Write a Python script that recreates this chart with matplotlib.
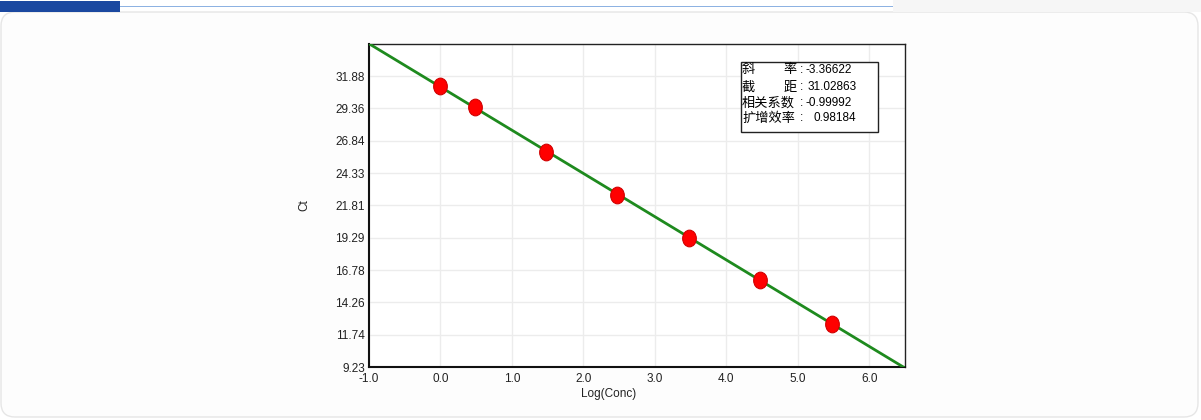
import numpy as np
import matplotlib
matplotlib.use("Agg")
import matplotlib.pyplot as plt
from matplotlib.patches import Rectangle, FancyBboxPatch
from matplotlib.path import Path
from matplotlib.transforms import IdentityTransform

plt.rcParams["font.family"] = ["Liberation Sans", "Noto Sans CJK SC", "DejaVu Sans"]

# standard curve data
log_conc = [0.0, 0.477, 1.477, 2.477, 3.477, 4.477, 5.477]
ct = [31.08, 29.46, 25.98, 22.63, 19.30, 15.98, 12.61]

slope = -3.36622
intercept = 31.02863
r_value = -0.99992
efficiency = 0.98184

x_ticks = [-1.0, 0.0, 1.0, 2.0, 3.0, 4.0, 5.0, 6.0]
x_lim = (-1.0, 6.5)
y_min, y_max = 9.23, 34.395
y_ticks = [9.23, 11.74, 14.26, 16.78, 19.29, 21.81, 24.33, 26.84, 29.36, 31.88]

W, H = 1201, 420
fig = plt.figure(figsize=(W / 100, H / 100), dpi=100)
fig.patch.set_facecolor("white")


def fx(px):
    return px / W


def fy(py):
    return 1 - py / H


# page decoration (panel frame, header bar)
fig.patches.append(FancyBboxPatch((1, 3), 1197, 405, boxstyle="round,pad=0,rounding_size=14",
                                  transform=IdentityTransform(), facecolor="#fdfdfd",
                                  edgecolor="#e6e6e6", lw=1, zorder=-3))
fig.patches.append(Rectangle((893, H - 12), 308, 12, transform=IdentityTransform(),
                             facecolor="#f6f6f6", edgecolor="none", zorder=-3))
fig.patches.append(Rectangle((0, H - 12), 120, 11, transform=IdentityTransform(),
                             facecolor="#1b48a0", edgecolor="none", zorder=-2))
fig.patches.append(Rectangle((120, H - 7), 773, 1.5, transform=IdentityTransform(),
                             facecolor="#8db2e2", edgecolor="none", zorder=-2))

ax = fig.add_axes([fx(369), fy(367), fx(905) - fx(369), fy(43.7) - fy(367)])
ax.set_zorder(1)
ax.set_facecolor("white")

# fitted line from slope / intercept
xl = np.array(x_lim)
ax.plot(xl, slope * xl + intercept, color="#1e8a1e", lw=2, zorder=3, solid_capstyle="butt")

# slightly tall elliptical marker
circ = Path.unit_circle()
ell = Path(circ.vertices * np.array([0.82, 1.0]), circ.codes)
ax.plot(log_conc, ct, linestyle="none", marker=ell, markersize=12,
        markerfacecolor="#ff0000", markeredgecolor="#d00000", markeredgewidth=0.8, zorder=4)

ax.set_xlim(*x_lim)
ax.set_ylim(y_min, y_max)
ax.set_xticks(x_ticks)
ax.set_xticklabels([f"{v:.1f}" for v in x_ticks])
ax.set_yticks(y_ticks)
ax.set_yticklabels([f"{v:.2f}" for v in y_ticks])
ax.tick_params(length=0, labelsize=8.5, colors="#222222", pad=3)
ax.tick_params(axis="x", pad=4)
ax.grid(True, color="#ececec", lw=1)
ax.set_axisbelow(True)

for side in ["top", "right"]:
    ax.spines[side].set_linewidth(1.0)
    ax.spines[side].set_color("#222222")
for side in ["left", "bottom"]:
    ax.spines[side].set_linewidth(1.5)
    ax.spines[side].set_color("#111111")

ax.set_xlabel("Log(Conc)", fontsize=8.5, color="#222222", labelpad=1)
ax.xaxis.set_label_coords((609 - 369) / 536, -0.065)
ax.set_ylabel("Ct", fontsize=8.5, color="#222222")
ax.yaxis.set_label_coords(-(369 - 310) / 536, 0.5)

# info box
fig.patches.append(Rectangle((fx(741), fy(132)), fx(878) - fx(741), fy(62) - fy(132),
                             transform=fig.transFigure, facecolor="white",
                             edgecolor="#222222", lw=1, zorder=5))

rows_y = [70, 87, 103, 118]
labels = [("斜", "率"), ("截", "距"), ("相关系数", None), ("扩增效率", None)]
values = [f"{slope:.5f}", f"{intercept:.5f}", f"{r_value:.5f}", f"{efficiency:.5f}"]
value_x = [805, 808, 805, 813]
cjk = ["Noto Sans CJK SC", "DejaVu Sans"]
for yy, (a, b), val, vx in zip(rows_y, labels, values, value_x):
    fig.text(fx(742), fy(yy), a, family=cjk, fontsize=9.5, va="center", ha="left", zorder=6)
    if b is not None:
        fig.text(fx(797), fy(yy), b, family=cjk, fontsize=9.5, va="center", ha="right", zorder=6)
    fig.text(fx(800), fy(yy), ":", fontsize=8.5, va="center", ha="left", zorder=6)
    fig.text(fx(vx), fy(yy), val, fontsize=8.5, va="center", ha="left", zorder=6)

fig.savefig("out.png", dpi=100)
